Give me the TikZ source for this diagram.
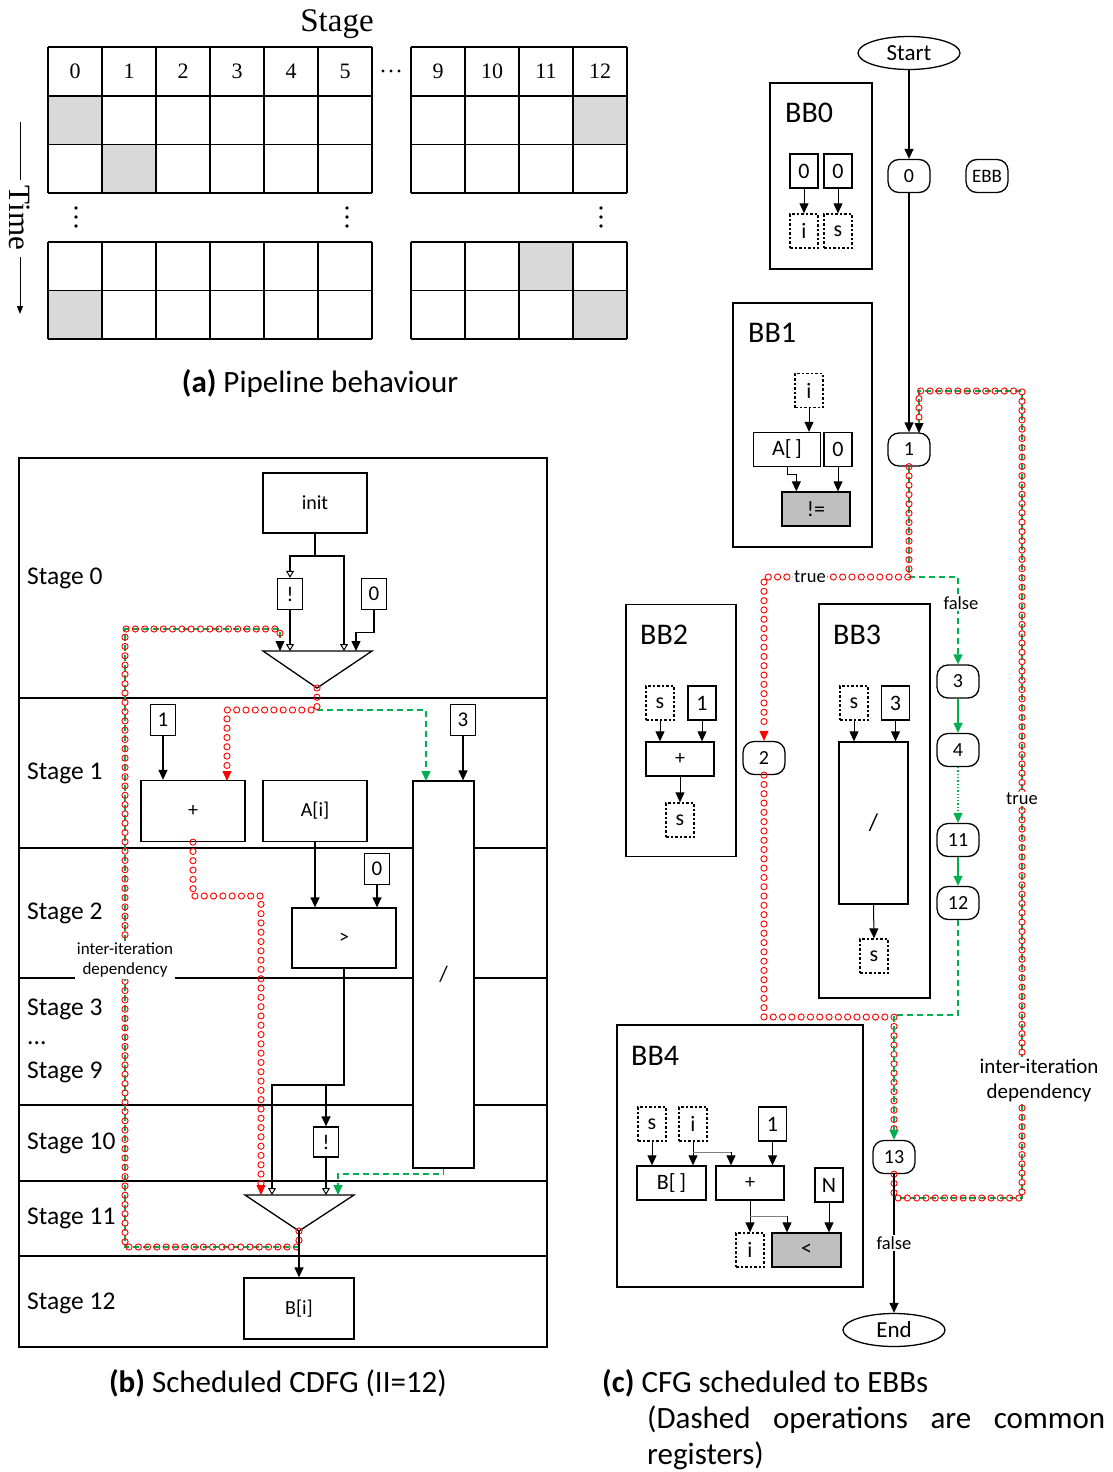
\documentclass[tikz,border=0pt]{standalone}
\usepackage{fontspec}
\setmainfont{Carlito}
\newfontfamily\serifA{Liberation Serif}
\usetikzlibrary{arrows.meta,decorations.markings,shapes.geometric,calc}
\definecolor{ogreen}{RGB}{0,176,80}
\definecolor{cellgray}{RGB}{217,217,217}
\definecolor{opgray}{RGB}{191,191,191}
\newcommand{\fsz}[1]{\fontsize{#1}{#1}\selectfont}
\begin{document}
\begin{tikzpicture}[x=1pt,y=-1pt, every node/.style={inner sep=0pt},
 lw/.style={line width=1.3pt},
 arr/.style={-{Triangle[length=10pt,width=9pt]}},
 oarr/.style={-{Triangle[open,length=7pt,width=8pt,line width=1pt]}},
 bx/.style={draw,line width=1.3pt,fill=white,font=\fsz{20}},
 sq/.style={bx,minimum width=25,minimum height=31,font=\fsz{21}},
 sq2/.style={bx,minimum width=28,minimum height=34,font=\fsz{22}},
 dsq/.style={sq2,dash pattern=on 2.5pt off 2pt},
 cfgn/.style={draw,line width=1.3pt,fill=white,rounded corners=11pt,minimum width=42,minimum height=33,font=\fsz{20}},
 ell/.style={ellipse,draw,line width=1.3pt,fill=white,minimum width=102,minimum height=33,font=\fsz{23}},
 lab/.style={fill=white,inner sep=1.5pt},
 gdash/.style={draw=ogreen,line width=1.4pt,dash pattern=on 6pt off 4pt},
 redc/.style={postaction={decorate},decoration={markings,mark=between positions 0 and 1 step 9.3pt with {\draw[red,line width=0.9pt,solid] (0,0) circle (3.1pt);}}},
 stg/.style={anchor=west,font=\fsz{25.5}},
 rtip/.style={red,line width=1pt,arr},
]
\useasboundingbox (0,0) rectangle (1113,1472);

%% ---------------- (a) pipeline table ----------------
\node[font=\serifA\fsz{33}] (stgt) at (337,24) {Stage};
\fill[cellgray] (48,96) rectangle (102,144.5);
\fill[cellgray] (573,96) rectangle (627,144.5);
\fill[cellgray] (102,144.5) rectangle (156,193);
\fill[cellgray] (519,242) rectangle (573,290.5);
\fill[cellgray] (48,290.5) rectangle (102,339);
\fill[cellgray] (573,290.5) rectangle (627,339);
\foreach \y in {47,96,144.5,193,242,290.5,339} {
  \draw[lw] (48,\y) -- (372,\y);
  \draw[lw] (411,\y) -- (627,\y);
}
\foreach \x in {48,102,156,210,264,318,372,411,465,519,573,627} {
  \draw[lw] (\x,47) -- (\x,193);
  \draw[lw] (\x,242) -- (\x,339);
}
\foreach \n in {0,...,5} \node[font=\serifA\fsz{22}] (h\n) at ({75+54*\n},71) {\n};
\foreach \n/\x in {9/438,10/492,11/546,12/600} \node[font=\serifA\fsz{22}] (h\n) at (\x,71) {\n};
\foreach \x in {383,391,399} \fill (\x,71) circle (1.7pt);
\foreach \x in {76,347,601} { \foreach \y in {208,217,226} \fill (\x,\y) circle (1.8pt); }
\node[rotate=-90,font=\serifA\fsz{31}] (time) at (20,218) {Time};
\coordinate (ta) at (20,122); \coordinate (tb) at (20,180);
\coordinate (tc) at (20,257); \coordinate (td) at (20,314);
\draw[line width=1pt] (ta) -- (tb);
\draw[line width=1pt,-{Triangle[length=8pt,width=6pt]}] (tc) -- (td);
\node[font=\fsz{31}] (capa) at (320,383) {\textbf{(a)} Pipeline behaviour};

%% ---------------- (b) scheduled CDFG ----------------
\draw[lw] (19,458) rectangle (547,1347);
\foreach \y in {698,848,978,1105,1181,1256} \draw[line width=1.6pt] (19,\y) -- (547,\y);
\node[stg] (s0) at (27,578) {Stage 0};
\node[stg] (s1) at (27,773) {Stage 1};
\node[stg] (s2) at (27,913) {Stage 2};
\node[stg] (s3) at (27,1009) {Stage 3};
\node[stg] (sdots) at (27,1043) {...};
\node[stg] (s9) at (27,1072) {Stage 9};
\node[stg] (s10) at (27,1143) {Stage 10};
\node[stg] (s11) at (27,1218) {Stage 11};
\node[stg] (s12) at (27,1303) {Stage 12};

\node[bx,minimum width=104,minimum height=60] (init) at (315,503) {init};
\node[sq] (ex0) at (290,594) {!};
\node[sq] (z0) at (374,594) {0};
\node[sq] (k1) at (163,720) {1};
\node[sq] (k3) at (463,720) {3};
\node[bx,minimum width=104,minimum height=61] (plus) at (193,811) {+};
\node[bx,minimum width=104,minimum height=61] (Ai) at (315,811) {A[i]};
\node[bx,minimum width=61,minimum height=387,font=\fsz{22}] (div) at (443.5,974.5) {/};
\node[sq] (z2) at (377,869) {0};
\node[bx,minimum width=104,minimum height=60] (gt) at (344,938) {>};
\node[sq,minimum height=30] (ex10) at (326,1142) {!};
\node[bx,minimum width=110,minimum height=61] (Bi) at (299,1308.5) {B[i]};

\coordinate (m0L) at (263,651); \coordinate (m0R) at (372,651); \coordinate (m0A) at (317,688);
\coordinate (m11L) at (245,1195); \coordinate (m11R) at (354,1195); \coordinate (m11A) at (299,1231);
\draw[lw,fill=white] (m0L) -- (m0R) -- (m0A) -- cycle;
\draw[lw,fill=white] (m11L) -- (m11R) -- (m11A) -- cycle;

% stage 0 wiring
\coordinate (sp0) at (315,556);
\coordinate (m0a) at (280,651); \coordinate (m0b) at (290,651);
\coordinate (m0c) at (344,651); \coordinate (m0d) at (356,651);
\draw[lw] (init.south) -- (sp0);
\draw[lw,oarr] (sp0) -| (ex0.north);
\draw[lw,oarr] (sp0) -| (m0c);
\draw[lw,oarr] (ex0.south) -- (m0b);
\draw[lw,arr] (z0.south) -- ++(0,22) -| (m0d);

% inter-iteration loop (b)
\coordinate (lb1) at (299,1247); \coordinate (lb2) at (125,1247);
\coordinate (lb3) at (125,629); \coordinate (lb4) at (280,629);
\coordinate (m0at) at (280,641);
\draw[gdash] (lb1) -- (lb2) -- (lb3) -- (lb4) -- (m0at);
\path[redc] (m11A) -- (lb1) -- (lb2) -- (lb3) -- (lb4) -- (m0at);
\draw[arr] (m0at) -- (m0a);

% from mux0
\coordinate (r1) at (317,710); \coordinate (r2) at (227,710);
\coordinate (pin) at (227,781); \coordinate (pint) at (227,771);
\coordinate (g1) at (426,710); \coordinate (dv1) at (426,781);
\draw[gdash,arr] (r1) -- (g1) -- (dv1);
\path[redc] (m0A) -- (r1) -- (r2) -- (pint);
\draw[rtip] (pint) -- (pin);

\draw[lw,arr] (k1.south) -- (k1.south |- plus.north);
\draw[lw,arr] (k3.south) -- (k3.south |- div.north);
\draw[lw,arr] (Ai.south) -- (Ai.south |- gt.north);
\draw[lw,arr] (z2.south) -- (z2.south |- gt.north);

% from plus to mux11
\coordinate (r3) at (193,896); \coordinate (r4) at (261,896);
\coordinate (m11a) at (261,1195); \coordinate (m11at) at (261,1185);
\path[redc] (plus.south) -- (r3) -- (r4) -- (m11at);
\draw[rtip] (m11at) -- (m11a);

% from gt
\coordinate (g5) at (344,1085); \coordinate (g6) at (272,1085);
\coordinate (m11b) at (272,1195); \coordinate (g7) at (326,1085);
\coordinate (m11c) at (326,1195);
\draw[lw,oarr] (gt.south) -- (g5) -- (g6) -- (m11b);
\draw[lw,arr] (g7) -- (ex10.north);
\draw[lw,oarr] (ex10.south) -- (m11c);
\coordinate (g8) at (443.5,1174); \coordinate (g9) at (338,1174); \coordinate (m11d) at (338,1195);
\draw[gdash,arr] (div.south) -- (g8) -- (g9) -- (m11d);
\draw[lw,arr] (m11A) -- (Bi.north);

\node[lab,align=center,font=\fontsize{17}{20}\selectfont] (iidb) at (125,960) {inter-iteration\\dependency};

\node[font=\fsz{31}] (capb) at (278,1383) {\textbf{(b)} Scheduled CDFG (II=12)};

%% ---------------- (c) CFG to EBBs ----------------
% basic blocks
\node[draw,lw,minimum width=102,minimum height=186] (bb0) at (821,176) {};
\node[anchor=west,font=\fsz{30}] (bb0t) at (785,113) {BB0};
\node[sq2] (b0z1) at (804,171) {0};
\node[sq2] (b0z2) at (838,171) {0};
\node[dsq] (b0i) at (804,231) {i};
\node[dsq] (b0s) at (838,231) {s};
\draw[line width=1pt,arr] (b0z1.south) -- (b0i.north);
\draw[line width=1pt,arr] (b0z2.south) -- (b0s.north);

\node[draw,lw,minimum width=139,minimum height=244] (bb1) at (802.5,425) {};
\node[anchor=west,font=\fsz{30}] (bb1t) at (748,333) {BB1};
\node[dsq] (b1i) at (809,390.5) {i};
\node[sq2,minimum width=67] (b1A) at (787,449.5) {A[\,]};
\node[sq2] (b1z) at (838,449.5) {0};
\node[bx,fill=opgray,minimum width=68,minimum height=34,font=\fsz{22}] (b1ne) at (816,509) {!=};
\draw[line width=1pt,arr] (b1i.south) -- (b1i.south |- b1A.north);
\draw[line width=1pt,arr] (b1A.south) -- ++(0,7) -| ($(b1ne.north west)+(15,0)$);
\draw[line width=1pt,arr] (b1z.south) -- (b1z.south |- b1ne.north);

\node[draw,lw,minimum width=110,minimum height=252] (bb2) at (681,730.5) {};
\node[anchor=west,font=\fsz{30}] (bb2t) at (640,635) {BB2};
\node[dsq] (b2s) at (660,703) {s};
\node[sq2] (b2one) at (702,703) {1};
\node[bx,minimum width=68,minimum height=34] (b2p) at (680,759) {+};
\node[dsq] (b2s2) at (680,820) {s};
\draw[line width=1pt,arr] (b2s.south) -- (b2s.south |- b2p.north);
\draw[line width=1pt,arr] (b2one.south) -- (b2one.south |- b2p.north);
\draw[line width=1pt,arr] (b2p.south) -- (b2s2.north);

\node[draw,lw,minimum width=111,minimum height=394] (bb3) at (874.5,801) {};
\node[anchor=west,font=\fsz{30}] (bb3t) at (833,635) {BB3};
\node[dsq] (b3s) at (854,703) {s};
\node[sq2] (b3c) at (895.5,703) {3};
\node[bx,minimum width=69,minimum height=162,font=\fsz{24}] (b3d) at (873.5,823) {/};
\node[dsq] (b3s2) at (874,956) {s};
\draw[line width=1pt,arr] (b3s.south) -- (b3s.south |- b3d.north);
\draw[line width=1pt,arr] (b3c.south) -- (b3c.south |- b3d.north);
\draw[line width=1pt,arr] (b3d.south) -- (b3s2.north);

\node[draw,lw,minimum width=246,minimum height=262] (bb4) at (740,1156) {};
\node[anchor=west,font=\fsz{30}] (bb4t) at (631,1056) {BB4};
\node[dsq] (b4s) at (652,1124) {s};
\node[dsq] (b4i) at (693,1124) {i};
\node[sq2] (b4one) at (772.5,1124) {1};
\node[bx,minimum width=69,minimum height=34,font=\fsz{22}] (b4B) at (671.5,1183) {B[\,]};
\node[bx,minimum width=68,minimum height=34] (b4p) at (750,1183) {+};
\node[sq2] (b4N) at (829,1185) {N};
\node[dsq] (b4i2) at (750,1250) {i};
\node[bx,fill=opgray,minimum width=69,minimum height=34,font=\fsz{22}] (b4lt) at (806.5,1250) {<};
\coordinate (b4br) at (693,1152); \coordinate (b4br2) at (731,1152);
\coordinate (b4br3) at (750,1216); \coordinate (b4br4) at (787,1216);
\draw[line width=1pt,arr] (b4s.south) -- (b4s.south |- b4B.north);
\draw[line width=1pt,arr] (b4i.south) -- (b4i.south |- b4B.north);
\draw[line width=1pt,draw=gray] (b4br) -- (b4br2);
\draw[line width=1pt,arr] (b4br2) -- (b4br2 |- b4p.north);
\draw[line width=1pt,arr] (b4one.south) -- (b4one.south |- b4p.north);
\draw[line width=1pt,arr] (b4p.south) -- (b4i2.north);
\draw[line width=1pt,draw=gray] (b4br3) -- (b4br4);
\draw[line width=1pt,arr] (b4br4) -- (b4br4 |- b4lt.north);
\draw[line width=1pt,arr] (b4N.south) -- (b4N.south |- b4lt.north);

% CFG nodes
\node[ell] (start) at (909,53) {Start};
\node[cfgn] (n0) at (909,176) {0};
\node[cfgn,font=\fsz{19}] (ebb) at (987,176) {EBB};
\node[cfgn] (n1) at (909,449.5) {1};
\node[cfgn] (n2) at (764,758) {2};
\node[cfgn] (n3) at (958,681.5) {3};
\node[cfgn] (n4) at (958,750) {4};
\node[cfgn] (n11) at (958,840) {11};
\node[cfgn] (n12) at (958,903) {12};
\node[cfgn] (n13) at (894,1157) {13};
\node[ell] (endn) at (894,1330) {End};

\draw[lw,arr] (start.south) -- (n0.north);
\draw[lw,arr] (n0.south) -- (n1.north);

% inter-iteration loop (c)
\coordinate (lc1) at (894,1198); \coordinate (lc2) at (1022,1198);
\coordinate (lc3) at (1022,391); \coordinate (lc4) at (919,391);
\coordinate (n1b) at (919,433); \coordinate (n1bt) at (919,423);
\draw[gdash] (n13.south) -- (lc1) -- (lc2) -- (lc3) -- (lc4) -- (n1bt);
\path[redc] (n13.south) -- (lc1) -- (lc2) -- (lc3) -- (lc4) -- (n1bt);
\draw[arr] (n1bt) -- (n1b);

% branch from BB1
\coordinate (cc1) at (909,577); \coordinate (cc2) at (958,577); \coordinate (cc3) at (764,577);
\coordinate (n2t) at ($(n2.north)+(0,-10)$);
\draw[gdash] (n1.south) -- (cc1);
\draw[gdash,arr] (cc1) -- (cc2) -- (n3.north);
\path[redc] (n1.south) -- (cc1) -- (cc3) -- (n2t);
\draw[rtip] (n2t) -- (n2.north);

\draw[ogreen,line width=1.3pt,arr] (n3.south) -- (n4.north);
\draw[ogreen,line width=1.3pt,dotted,arr] (n4.south) -- (n11.north);
\draw[ogreen,line width=1.3pt,arr] (n11.south) -- (n12.north);

\coordinate (cc6) at (764,1017); \coordinate (cc7) at (894,1017);
\coordinate (cc4) at (958,1015); \coordinate (cc5) at (894,1015);
\path[redc] (n2.south) -- (cc6) -- (cc7) -- ($(n13.north)+(0,-10)$);
\draw[gdash,arr] (n12.south) -- (cc4) -- (cc5) -- (n13.north);

\draw[lw,arr] (n13.south) -- (endn.north);

% labels (c)
\node[lab,font=\fsz{18.5}] (tr1) at (810,577) {true};
\node[lab,font=\fsz{18.5}] (fa1) at (961,603) {false};
\node[lab,font=\fsz{18.5}] (tr2) at (1022,799) {true};
\node[lab,font=\fsz{18.5}] (fa2) at (894,1243) {false};
\node[lab,align=center,font=\fontsize{21}{25}\selectfont] (iidc) at (1039,1080) {inter-iteration\\dependency};

\node[anchor=west,font=\fsz{31}] (capc) at (602,1383) {\textbf{(c)} CFG scheduled to EBBs};
\node[anchor=west,font=\fsz{31}] (capc2) at (647,1420) {\makebox[458pt][s]{(Dashed operations are common}};
\node[anchor=west,font=\fsz{31}] (capc3) at (647,1456) {registers)};
\end{tikzpicture}
\end{document}
